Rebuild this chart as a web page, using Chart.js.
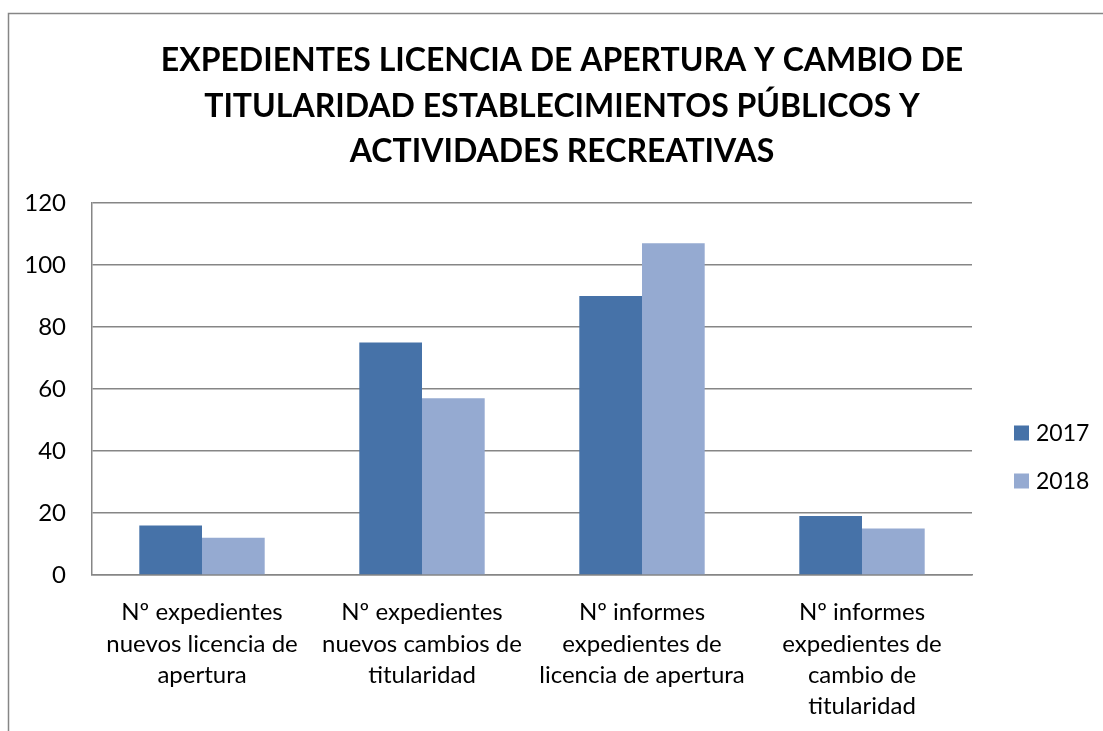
<!DOCTYPE html>
<html>
<head>
<meta charset="utf-8">
<script src="https://cdn.jsdelivr.net/npm/chart.js@4.4.0/dist/chart.umd.min.js"></script>
<style>
    html, body { margin: 0; padding: 0; background: #ffffff; }
    #wrap { width: 1103px; height: 731px; position: relative; }
</style>
</head>
<body>
<div id="wrap"><canvas id="barChart"></canvas></div>
<script>
// Chart data
const titleLines = [
    'EXPEDIENTES LICENCIA DE APERTURA Y CAMBIO DE',
    'TITULARIDAD ESTABLECIMIENTOS PÚBLICOS Y',
    'ACTIVIDADES RECREATIVAS'
];
const categories = [
    ['Nº expedientes', 'nuevos licencia de', 'apertura'],
    ['Nº expedientes', 'nuevos cambios de', 'titularidad'],
    ['Nº informes', 'expedientes de', 'licencia de apertura'],
    ['Nº informes', 'expedientes de', 'cambio de', 'titularidad']
];
const seriesNames = ['2017', '2018'];
const values2017 = [16, 75, 90, 19];
const values2018 = [12, 57, 107, 15];
const yTicks = [0, 20, 40, 60, 80, 100, 120];

const FONT = 'Lato, "Open Sans", sans-serif';
const GRID = '#868686';
const colors = ['#4672A8', '#95AAD1'];

// Frame, title and legend drawn around the plot
const decorPlugin = {
    id: 'decor',
    beforeDraw(chart) {
        const ctx = chart.ctx;
        ctx.save();
        ctx.strokeStyle = GRID;
        ctx.lineWidth = 1.5;
        ctx.beginPath();
        ctx.moveTo(8.5, 731);
        ctx.lineTo(8.5, 13.5);
        ctx.lineTo(1103, 13.5);
        ctx.stroke();
        ctx.restore();
    },
    afterDraw(chart) {
        const ctx = chart.ctx;
        ctx.save();
        // title
        ctx.fillStyle = '#000000';
        ctx.font = 'bold 32px ' + FONT;
        ctx.textAlign = 'center';
        ctx.textBaseline = 'middle';
        titleLines.forEach((line, i) => {
            ctx.fillText(line, 562, 61 + i * 45.5);
        });
        // legend
        ctx.font = '23px ' + FONT;
        ctx.textAlign = 'left';
        chart.data.datasets.forEach((ds, i) => {
            const y = 433 + i * 48;
            ctx.fillStyle = ds.backgroundColor;
            ctx.fillRect(1014, y - 7.5, 15, 15);
            ctx.fillStyle = '#000000';
            ctx.fillText(ds.label, 1036, y + 1);
        });
        ctx.restore();
    }
};

const ctx = document.getElementById('barChart').getContext('2d');
new Chart(ctx, {
    type: 'bar',
    data: {
        labels: categories,
        datasets: [
            { label: seriesNames[0], data: values2017, backgroundColor: colors[0] },
            { label: seriesNames[1], data: values2018, backgroundColor: colors[1] }
        ]
    },
    options: {
        responsive: true,
        maintainAspectRatio: false,
        animation: false,
        layout: {
            padding: { top: 203, right: 131, left: 0, bottom: 0 }
        },
        datasets: {
            bar: { categoryPercentage: 0.57, barPercentage: 1.0 }
        },
        plugins: {
            legend: { display: false },
            title: { display: false },
            tooltip: { enabled: false }
        },
        scales: {
            x: {
                grid: { display: false, drawTicks: false },
                border: { color: GRID, width: 1.5 },
                ticks: {
                    color: '#000000',
                    autoSkip: false,
                    maxRotation: 0,
                    padding: 22,
                    font: { family: FONT, size: 24, lineHeight: 1.3 }
                },
                afterFit(scale) { scale.height = 156; }
            },
            y: {
                min: 0,
                max: 120,
                afterBuildTicks(scale) {
                    scale.ticks = yTicks.map(v => ({ value: v }));
                },
                grid: { color: GRID, lineWidth: 1.5, drawTicks: false },
                border: { color: GRID, width: 1.5 },
                ticks: {
                    color: '#000000',
                    padding: 26,
                    font: { family: FONT, size: 24 }
                },
                afterFit(scale) { scale.width = 92; }
            }
        }
    },
    plugins: [decorPlugin]
});
</script>
</body>
</html>
